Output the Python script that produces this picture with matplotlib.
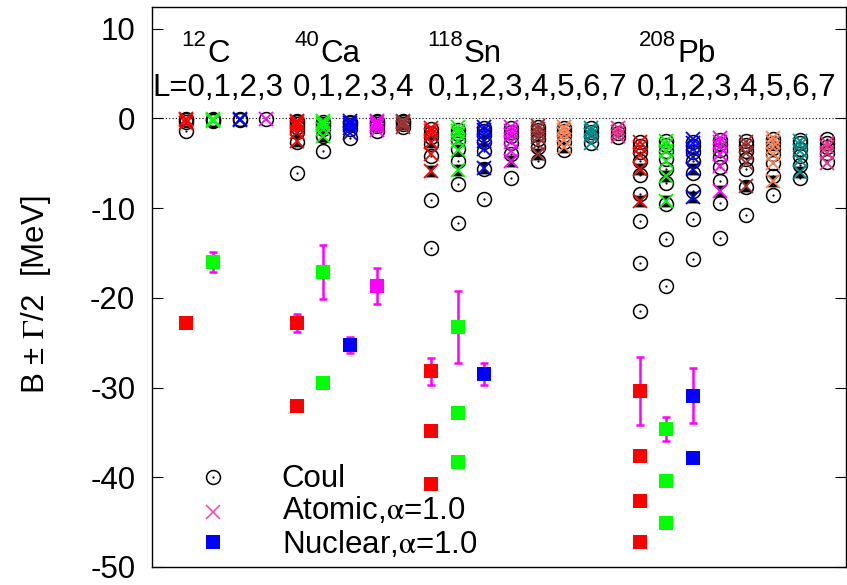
import matplotlib
matplotlib.use("Agg")
import matplotlib.pyplot as plt
from matplotlib.path import Path

plt.rcParams['font.family'] = ['Liberation Sans', 'DejaVu Sans']
plt.rcParams['mathtext.fontset'] = 'stix'
plt.rcParams['axes.unicode_minus'] = False

# ---- data: binding energies (MeV), one inner list per orbital angular momentum L ----
nuclei = ["C", "Ca", "Sn", "Pb"]
mass_numbers = ["12", "40", "118", "208"]

C12_coul = [[-1.4, -0.45, -0.2, -0.1], [-0.35, -0.15, -0.08], [-0.15, -0.08], [-0.08]]
C12_atom = [[-0.5, -0.2, -0.1], [-0.3, -0.15, -0.08], [-0.15, -0.08], [-0.08]]
C12_hour = [[], [], [], []]

Ca40_coul = [[-6.1, -2.6, -1.5, -0.95, -0.65, -0.45, -0.3],
             [-3.6, -2.0, -1.25, -0.85, -0.6, -0.4],
             [-2.2, -1.25, -0.8, -0.55, -0.4],
             [-1.4, -0.9, -0.6, -0.45, -0.3],
             [-1.0, -0.65, -0.45, -0.3]]
Ca40_atom = [[-2.5, -1.5, -0.95, -0.65, -0.45, -0.3],
             [-2.0, -1.2, -0.8, -0.55, -0.35],
             [-1.6, -1.1, -0.75, -0.5, -0.35],
             [-1.3, -0.9, -0.6, -0.45, -0.3],
             [-1.0, -0.65, -0.45, -0.3]]
Ca40_hour = [[-2.5], [-2.0], [], [], []]

Sn118_coul = [[-14.5, -9.1, -4.2, -2.9, -2.1, -1.6, -1.2],
              [-11.7, -7.3, -4.8, -3.4, -2.4, -1.8, -1.3],
              [-9.0, -5.6, -3.6, -2.6, -1.9, -1.4, -1.05],
              [-6.7, -4.0, -2.8, -2.0, -1.5, -1.1],
              [-4.8, -3.2, -2.3, -1.7, -1.3, -1.0],
              [-3.5, -2.6, -1.9, -1.4, -1.1],
              [-2.8, -2.0, -1.5, -1.1],
              [-2.1, -1.6, -1.2]]
Sn118_atom = [[-5.9, -4.0, -2.6, -1.9, -1.4, -1.1],
              [-5.8, -3.5, -2.5, -1.8, -1.4, -1.0],
              [-5.5, -3.4, -2.5, -1.8, -1.3, -1.0],
              [-4.8, -3.6, -2.6, -1.9, -1.4, -1.0],
              [-4.0, -2.9, -2.1, -1.6, -1.2, -0.9],
              [-3.2, -2.4, -1.8, -1.3, -1.0],
              [-2.7, -1.9, -1.4, -1.1],
              [-2.0, -1.5, -1.1]]
Sn118_hour = [[-5.9, -2.6], [-5.8, -3.5], [-5.5, -2.5], [-4.8], [-4.0], [-3.2], [], []]

Pb208_coul = [[-21.5, -16.1, -11.4, -8.4, -6.3, -4.8, -3.8, -3.1, -2.6],
              [-18.7, -13.4, -9.6, -7.2, -5.6, -4.5, -3.6, -3.0, -2.5],
              [-15.7, -11.2, -8.1, -6.1, -4.8, -3.8, -3.1, -2.6],
              [-13.3, -9.4, -7.0, -5.4, -4.3, -3.5, -2.9, -2.4],
              [-10.8, -7.7, -5.7, -4.5, -3.6, -3.0, -2.5],
              [-8.6, -6.4, -5.0, -4.0, -3.3, -2.7, -2.3],
              [-6.7, -5.2, -4.2, -3.4, -2.8, -2.4],
              [-4.9, -3.9, -3.2, -2.7, -2.3]]
Pb208_atom = [[-9.2, -5.7, -4.1, -3.2, -2.6],
              [-9.2, -6.4, -4.8, -3.7, -3.0, -2.5],
              [-8.8, -5.6, -4.3, -3.4, -2.8, -2.3],
              [-8.1, -5.3, -4.0, -3.2, -2.6, -2.2],
              [-7.5, -5.0, -3.9, -3.1, -2.6],
              [-7.0, -5.0, -4.0, -3.2, -2.6, -2.2],
              [-6.0, -4.6, -3.7, -3.0, -2.5],
              [-5.0, -3.9, -3.2, -2.7]]
Pb208_hour = [[-9.2, -5.7], [-9.2, -6.4], [-8.8, -5.6], [-8.1], [-7.5], [-7.0], [-6.0], []]

# nuclear states: L, binding energy B, half width Gamma/2
C12_nuc_L = [0, 1]
C12_nuc_B = [-22.8, -16.0]
C12_nuc_G = [0.0, 1.1]
Ca40_nuc_L = [0, 0, 1, 1, 2, 3]
Ca40_nuc_B = [-22.8, -32.1, -17.1, -29.5, -25.3, -18.65]
Ca40_nuc_G = [1.0, 0.0, 3.0, 0.0, 0.9, 2.0]
Sn118_nuc_L = [0, 0, 0, 1, 1, 1, 2]
Sn118_nuc_B = [-28.2, -34.8, -40.7, -23.3, -32.8, -38.3, -28.5]
Sn118_nuc_G = [1.5, 0.0, 0.0, 4.0, 0.0, 0.0, 1.2]
Pb208_nuc_L = [0, 0, 0, 0, 1, 1, 1, 2, 2]
Pb208_nuc_B = [-30.4, -37.6, -42.7, -47.2, -34.6, -40.4, -45.1, -30.9, -37.8]
Pb208_nuc_G = [3.75, 0.0, 0.0, 0.0, 1.35, 0.0, 0.0, 3.1, 0.0]

L_groups = ["L=0,1,2,3", "0,1,2,3,4", "0,1,2,3,4,5,6,7", "0,1,2,3,4,5,6,7"]

# ---- styling ----
L_colors = ["#ff0000", "#00ff00", "#0000ff", "#ff00ff", "#993333", "#ff8050", "#008b8b", "#ee2e90"]
x_start = [1.28, 5.42, 10.45, 18.27]   # horizontal position of the L=0 column of each nucleus
name_x = [2.06, 6.29, 11.69, 19.67]    # left edge of each element symbol
group_x = [0.02, 5.28, 10.34, 18.17]   # left edge of each L list

coul_all = [C12_coul, Ca40_coul, Sn118_coul, Pb208_coul]
atom_all = [C12_atom, Ca40_atom, Sn118_atom, Pb208_atom]
hour_all = [C12_hour, Ca40_hour, Sn118_hour, Pb208_hour]
nuc_all = [(C12_nuc_L, C12_nuc_B, C12_nuc_G), (Ca40_nuc_L, Ca40_nuc_B, Ca40_nuc_G),
           (Sn118_nuc_L, Sn118_nuc_B, Sn118_nuc_G), (Pb208_nuc_L, Pb208_nuc_B, Pb208_nuc_G)]

hourglass = Path([(-1, 1), (1, 1), (-1, -1), (1, -1), (-1, 1)],
                 [Path.MOVETO, Path.LINETO, Path.LINETO, Path.LINETO, Path.CLOSEPOLY])

FS = 22.5
fig = plt.figure(figsize=(8.47, 5.85), dpi=100)
ax = fig.add_axes([152 / 847, 18 / 585, 694 / 847, 560 / 585])
ax.set_xlim(0, 26)
ax.set_ylim(-50, 12.4)

ax.axhline(0, color="black", lw=0.8, ls=(0, (1, 2)), zorder=1)

MS = 10
for k in range(4):
    for L in range(len(coul_all[k])):
        x = x_start[k] + L
        col = L_colors[L]
        yc = coul_all[k][L]
        ax.plot([x] * len(yc), yc, ls="none", marker="o", ms=MS, mfc="none",
                mec="black", mew=1.1, zorder=2)
        ax.plot([x] * len(yc), yc, ls="none", marker="o", ms=1.6, mfc="black",
                mec="black", mew=0, zorder=2)
        yh = hour_all[k][L]
        if yh:
            ax.plot([x] * len(yh), yh, ls="none", marker=hourglass, ms=MS * 0.85,
                    mfc="black", mec="black", mew=0, zorder=3)
        ya = atom_all[k][L]
        ax.plot([x] * len(ya), ya, ls="none", marker="x", ms=MS * 1.05, mec=col,
                mew=1.3, zorder=4)
    Ls, Bs, Gs = nuc_all[k]
    for L, B, G in zip(Ls, Bs, Gs):
        x = x_start[k] + L
        if G > 0:
            ax.errorbar([x], [B], yerr=[G], fmt="none", ecolor="#ff00ff",
                        elinewidth=1.8, capsize=3.2, capthick=1.8, zorder=5)
        ax.plot([x], [B], ls="none", marker="s", ms=MS, mfc=L_colors[L],
                mec=L_colors[L], mew=0, zorder=6)

# nucleus names and L values
for k in range(4):
    ax.text(name_x[k], 6.3, nuclei[k], fontsize=FS, ha="left", va="baseline", zorder=7)
    ax.annotate(mass_numbers[k], (name_x[k], 6.3), xytext=(-0.5, 11),
                textcoords="offset points", fontsize=16, ha="right", va="baseline")
    ax.text(group_x[k], 2.45, L_groups[k], fontsize=FS, ha="left", va="baseline")

# axes
ax.set_yticks([10, 0, -10, -20, -30, -40, -50])
ax.set_xticks([])
ax.tick_params(axis="y", direction="in", length=8, width=0.8, labelsize=FS,
               pad=12, right=True)
for s in ax.spines.values():
    s.set_linewidth(1.0)
ax.set_ylabel(r"B ± $\Gamma$/2  [MeV]", fontsize=FS)
ax.yaxis.set_label_coords(-0.143, 0.486)

# legend
lx, tx = 0.088, 0.187
ax.plot([lx], [0.1607], transform=ax.transAxes, ls="none", marker="o", ms=MS,
        mfc="none", mec="black", mew=1.1, clip_on=False)
ax.plot([lx], [0.1607], transform=ax.transAxes, ls="none", marker="o", ms=1.6,
        mfc="black", mew=0, clip_on=False)
ax.plot([lx], [0.0988], transform=ax.transAxes, ls="none", marker="x", ms=MS * 1.05,
        mec="#ff3fb0", mew=1.1, clip_on=False)
ax.plot([lx], [0.0441], transform=ax.transAxes, ls="none", marker="s", ms=MS,
        mfc="#0000ff", mew=0, clip_on=False)
ax.text(tx, 0.1429, "Coul", transform=ax.transAxes, fontsize=FS, va="baseline")
ax.text(tx, 0.0857, r"Atomic,$\mathrm{\alpha}$=1.0", transform=ax.transAxes,
        fontsize=FS, va="baseline")
ax.text(tx, 0.0256, r"Nuclear,$\mathrm{\alpha}$=1.0", transform=ax.transAxes,
        fontsize=FS, va="baseline")

fig.savefig("out.png", dpi=100)
